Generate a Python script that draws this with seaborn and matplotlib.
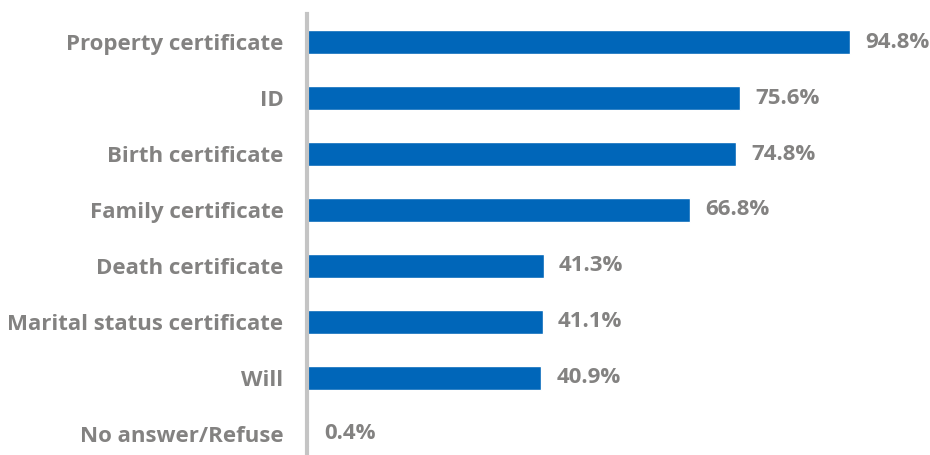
import matplotlib
matplotlib.use("Agg")
import matplotlib.pyplot as plt
import seaborn as sns
import pandas as pd

categories = [
    "Property certificate",
    "ID",
    "Birth certificate",
    "Family certificate",
    "Death certificate",
    "Marital status certificate",
    "Will",
    "No answer/Refuse",
]
shares = [94.8, 75.6, 74.8, 66.8, 41.3, 41.1, 40.9, 0.4]

BAR_BLUE = "#0066B9"
TEXT_GREY = "#838281"
AXIS_GREY = "#C4C4C4"
FONT_SIZE = 16

sns.set_theme(style="white")
plt.rcParams["font.family"] = ["Open Sans", "DejaVu Sans"]

df = pd.DataFrame({"category": categories, "share": shares})

fig = plt.figure(figsize=(9.3, 4.55), dpi=100)
ax = fig.add_axes([307 / 930, -0.015, 573 / 930, 0.969 + 0.015])

sns.barplot(data=df, x="share", y="category", color=BAR_BLUE,
            width=0.43, saturation=1, ax=ax, orient="h")

ax.set_xlim(0, 100)
ax.set_ylim(7.5, -0.5)
ax.set_xlabel("")
ax.set_ylabel("")
ax.set_xticks([])
ax.tick_params(axis="y", length=0, pad=17)
for lbl in ax.get_yticklabels():
    lbl.set_fontsize(FONT_SIZE)
    lbl.set_fontweight("bold")
    lbl.set_color(TEXT_GREY)

for i, v in enumerate(shares):
    ax.annotate(f"{v:.1f}%", xy=(v, i), xytext=(11, 0), textcoords="offset points",
                va="center", ha="left", fontsize=FONT_SIZE, fontweight="bold",
                color=TEXT_GREY)

for side in ["top", "right", "bottom"]:
    ax.spines[side].set_visible(False)
ax.spines["left"].set_color(AXIS_GREY)
ax.spines["left"].set_linewidth(3)

fig.savefig("out.png", dpi=100)
